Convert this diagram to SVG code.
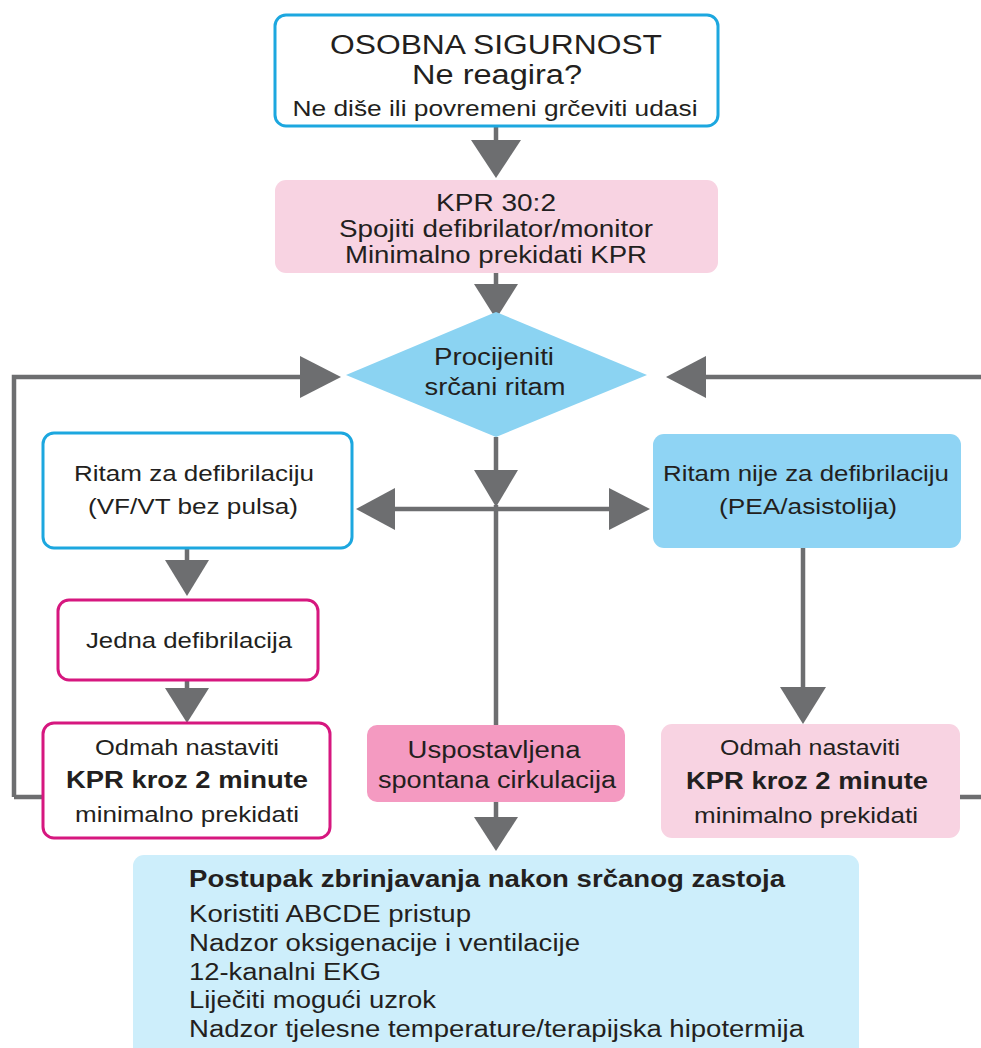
<svg xmlns="http://www.w3.org/2000/svg" width="981" height="1048" viewBox="0 0 981 1048">
<style>
text{font-family:"Liberation Sans",Arial,sans-serif;fill:#231f20;text-anchor:middle}
.b{font-weight:bold}
.l{text-anchor:start}
.ln{stroke:#6d6e70;stroke-width:4.5;fill:none}
.ah{fill:#6d6e70}
.cy{fill:#fff;stroke:#1ca7df;stroke-width:3}
.mg{fill:#fff;stroke:#d6177f;stroke-width:3}
</style>
<rect width="981" height="1048" fill="#fff"/>
<g id="connectors">
<path class="ln" d="M496 126V142M496 272V286M496 437V472M496 505V726M496 802V818M187 548V562M187 680V690M803 548V690"/>
<path class="ln" d="M14 797V377H302M981 377H704M14 797H43M960 797H981M393 509H611"/>
<polygon class="ah" points="471,140 521,140 496,178"/>
<polygon class="ah" points="474,284 518,284 496,319"/>
<polygon class="ah" points="300,356 300,398 341,377"/>
<polygon class="ah" points="706,356 706,398 666,377"/>
<polygon class="ah" points="474,470 518,470 496,507"/>
<polygon class="ah" points="395,488 395,530 356,509"/>
<polygon class="ah" points="609,488 609,530 650,509"/>
<polygon class="ah" points="165,560 209,560 187,596"/>
<polygon class="ah" points="165,688 209,688 187,723"/>
<polygon class="ah" points="780,687 826,687 803,724"/>
<polygon class="ah" points="474,817 518,817 496,851"/>
</g>
<g id="osobna">
<rect class="cy" x="275" y="15" width="443" height="111" rx="11"/>
<text x="496" y="54" font-size="27" textLength="332" lengthAdjust="spacingAndGlyphs">OSOBNA SIGURNOST</text>
<text x="497" y="84" font-size="27" textLength="170" lengthAdjust="spacingAndGlyphs">Ne reagira?</text>
<text x="495" y="116" font-size="22" textLength="405" lengthAdjust="spacingAndGlyphs">Ne diše ili povremeni grčeviti udasi</text>
</g>
<g id="kpr">
<rect x="275" y="180" width="443" height="93" rx="11" fill="#f8d3e2"/>
<text x="496" y="211" font-size="23" textLength="120" lengthAdjust="spacingAndGlyphs">KPR 30:2</text>
<text x="496" y="237" font-size="23" textLength="314" lengthAdjust="spacingAndGlyphs">Spojiti defibrilator/monitor</text>
<text x="496" y="263" font-size="23" textLength="302" lengthAdjust="spacingAndGlyphs">Minimalno prekidati KPR</text>
</g>
<g id="procijeniti">
<polygon points="346,375 496,312 647,375 496,437" fill="#8bd3f2"/>
<text x="494" y="365" font-size="23" textLength="120" lengthAdjust="spacingAndGlyphs">Procijeniti</text>
<text x="495" y="395" font-size="23" textLength="141" lengthAdjust="spacingAndGlyphs">srčani ritam</text>
</g>
<g id="ritam-defib">
<rect class="cy" x="43" y="433" width="309" height="115" rx="11" stroke-width="2.5"/>
<text x="194" y="481" font-size="22" textLength="240" lengthAdjust="spacingAndGlyphs">Ritam za defibrilaciju</text>
<text x="193" y="514" font-size="22" textLength="210" lengthAdjust="spacingAndGlyphs">(VF/VT bez pulsa)</text>
</g>
<g id="ritam-nije">
<rect x="653" y="434" width="308" height="114" rx="11" fill="#8fd4f4"/>
<text x="806" y="481" font-size="22" textLength="286" lengthAdjust="spacingAndGlyphs">Ritam nije za defibrilaciju</text>
<text x="808" y="514" font-size="22" textLength="178" lengthAdjust="spacingAndGlyphs">(PEA/asistolija)</text>
</g>
<g id="jedna">
<rect class="mg" x="58" y="600" width="260" height="80" rx="11" stroke-width="2.5"/>
<text x="189" y="648" font-size="22" textLength="206" lengthAdjust="spacingAndGlyphs">Jedna defibrilacija</text>
</g>
<g id="odmah-lijevo">
<rect class="mg" x="43" y="723" width="287" height="115" rx="11"/>
<text x="187" y="755" font-size="22" textLength="184" lengthAdjust="spacingAndGlyphs">Odmah nastaviti</text>
<text class="b" x="187" y="788" font-size="23" textLength="242" lengthAdjust="spacingAndGlyphs">KPR kroz 2 minute</text>
<text x="187" y="822" font-size="22" textLength="224" lengthAdjust="spacingAndGlyphs">minimalno prekidati</text>
</g>
<g id="uspostavljena">
<rect x="367" y="725" width="258" height="77" rx="10" fill="#f49ac1"/>
<text x="494" y="758" font-size="23" textLength="173" lengthAdjust="spacingAndGlyphs">Uspostavljena</text>
<text x="497" y="788" font-size="23" textLength="238" lengthAdjust="spacingAndGlyphs">spontana cirkulacija</text>
</g>
<g id="odmah-desno">
<rect x="661" y="724" width="299" height="114" rx="11" fill="#f8d3e2"/>
<text x="810" y="755" font-size="22" textLength="180" lengthAdjust="spacingAndGlyphs">Odmah nastaviti</text>
<text class="b" x="807" y="789" font-size="23" textLength="242" lengthAdjust="spacingAndGlyphs">KPR kroz 2 minute</text>
<text x="806" y="823" font-size="22" textLength="224" lengthAdjust="spacingAndGlyphs">minimalno prekidati</text>
</g>
<g id="postupak">
<rect x="133" y="855" width="726" height="210" rx="11" fill="#cdeefb"/>
<text class="b l" x="189" y="887" font-size="23" textLength="596" lengthAdjust="spacingAndGlyphs">Postupak zbrinjavanja nakon srčanog zastoja</text>
<text class="l" x="189" y="922" font-size="23" textLength="282" lengthAdjust="spacingAndGlyphs">Koristiti ABCDE pristup</text>
<text class="l" x="189" y="951" font-size="23" textLength="391" lengthAdjust="spacingAndGlyphs">Nadzor oksigenacije i ventilacije</text>
<text class="l" x="189" y="980" font-size="23" textLength="192" lengthAdjust="spacingAndGlyphs">12-kanalni EKG</text>
<text class="l" x="189" y="1008" font-size="23" textLength="247" lengthAdjust="spacingAndGlyphs">Liječiti mogući uzrok</text>
<text class="l" x="189" y="1037" font-size="23" textLength="615" lengthAdjust="spacingAndGlyphs">Nadzor tjelesne temperature/terapijska hipotermija</text>
</g>
</svg>
